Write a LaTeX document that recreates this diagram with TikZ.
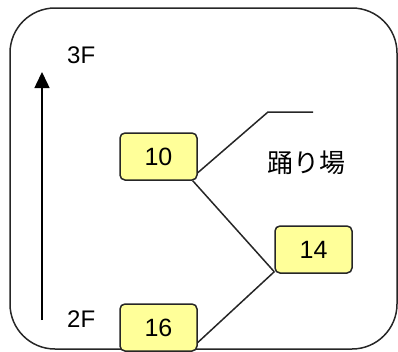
\documentclass[tikz,border=0pt]{standalone}
\usepackage{fontspec}
\setmainfont{Liberation Sans}
\newfontfamily\cjk{Noto Sans CJK JP}
\usetikzlibrary{arrows.meta}
\definecolor{boxfill}{HTML}{FFFF99}
\tikzset{
  numbox/.style={draw=black!85, line width=1.5pt, fill=boxfill, rounded corners=5pt,
    minimum width=77pt, minimum height=47pt, inner sep=0pt, font=\fontsize{25}{27}\selectfont},
  conn/.style={draw=black!85, line width=1.5pt},
  lbl/.style={inner sep=0pt, font=\fontsize{24}{26}\selectfont}
}
\begin{document}
\begin{tikzpicture}[x=1pt,y=-1pt]
\useasboundingbox (0,0) rectangle (398,351);
\clip (0,0) rectangle (398,351);
\draw[line width=1.5pt, black!85, rounded corners=45pt] (10,8) rectangle (397,349);
\coordinate (ab) at (42,320);
\coordinate (at) at (42,72);
\draw[line width=1.5pt, -{Triangle[length=16pt,width=15pt]}] (ab) -- (at);
\node[lbl, anchor=west] (f3) at (67,55) {3F};
\node[lbl, anchor=west] (f2) at (67,319) {2F};
\node[numbox] (b10) at (158.5,156.5) {\raisebox{-2pt}{10}};
\node[numbox] (b14) at (313.5,249.5) {\raisebox{-2pt}{14}};
\node[numbox] (b16) at (158.5,327.5) {\raisebox{-4pt}{16}};
\node[inner sep=0pt, font=\cjk\fontsize{26}{28}\selectfont] (lnd) at (306,163) {踊り場};
\coordinate (k1) at (268,112);
\coordinate (k2) at (313,112);
\draw[conn] ([yshift=8pt]b10.south east) -- (k1) -- (k2);
\draw[conn] ([xshift=-5pt]b10.south east) -- ([yshift=2pt]b14.south west);
\draw[conn] ([yshift=2pt]b14.south west) -- ([yshift=-15pt]b16.east);
\end{tikzpicture}
\end{document}
